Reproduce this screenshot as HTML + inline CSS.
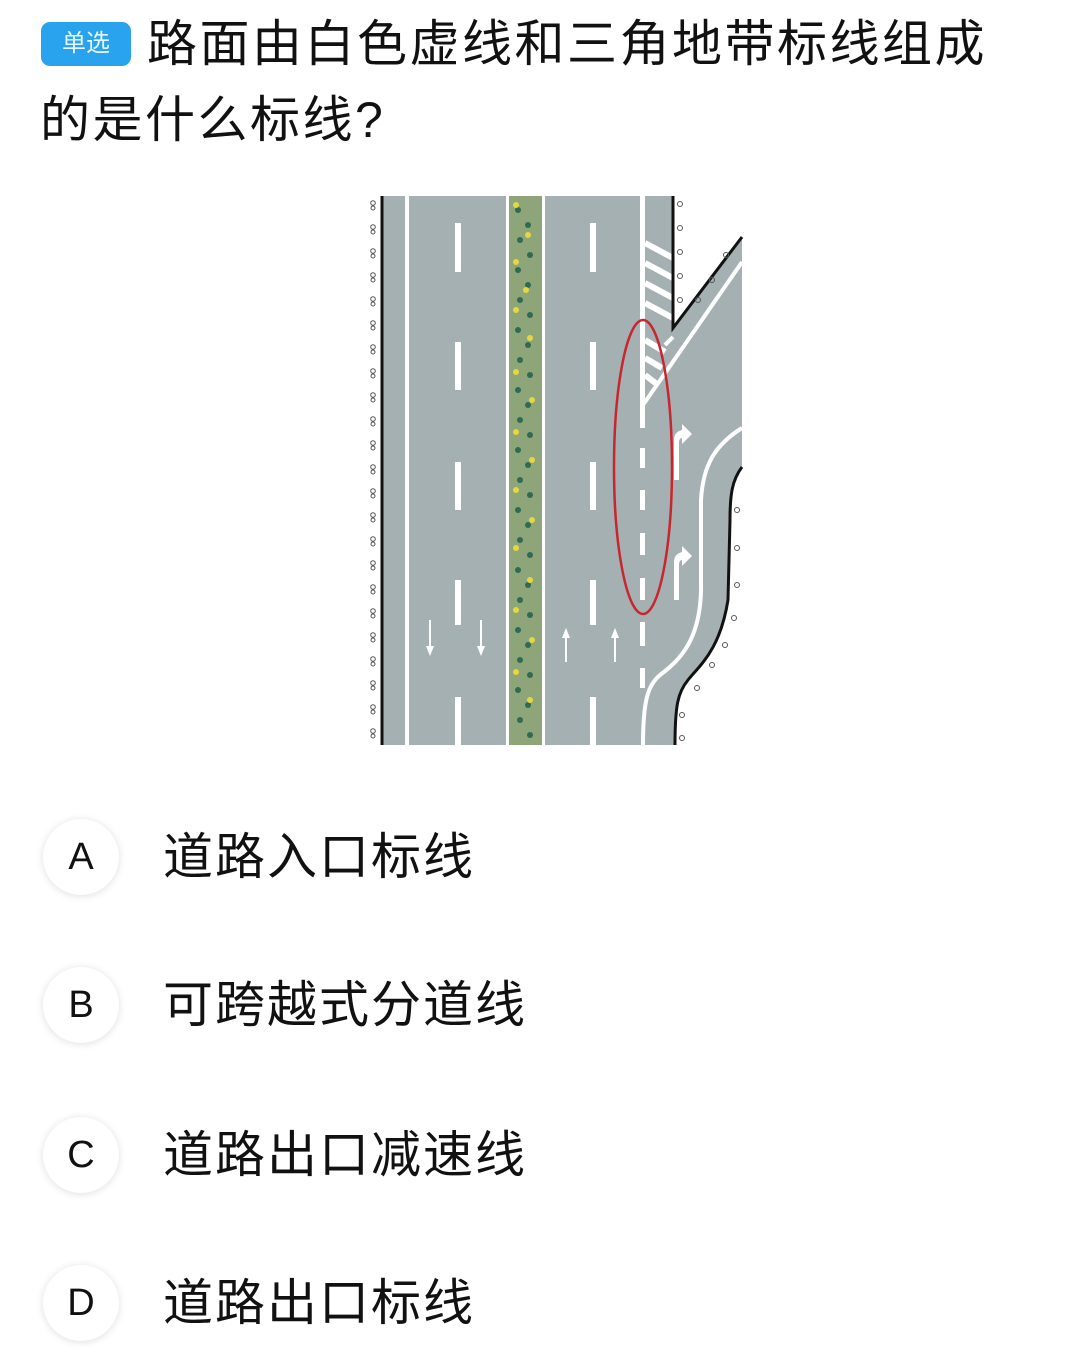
<!DOCTYPE html>
<html><head><meta charset="utf-8"><style>
body{margin:0;width:1080px;height:1361px;background:#fff;position:relative;overflow:hidden;font-family:"Liberation Sans","Noto Sans CJK SC",sans-serif;color:#111}
.badge{position:absolute;left:41px;top:22px;width:90px;height:44px;background:#2aa3ef;border-radius:9px;color:#e8f6ff;font-size:24px;line-height:44px;text-align:center}
.t{position:absolute;font-size:50px;letter-spacing:2.5px;line-height:60px;white-space:nowrap}
.c{position:absolute;left:43px;width:76px;height:76px;border-radius:50%;background:#fff;box-shadow:0 1px 8px rgba(0,0,0,0.13);font-size:38px;line-height:76px;text-align:center;color:#111}
.o{position:absolute;left:163px;font-size:50px;letter-spacing:2px;line-height:60px;white-space:nowrap}
</style></head><body>
<div class="badge">单选</div>
<div class="t" style="left:147px;top:14px">路面由白色虚线和三角地带标线组成</div>
<div class="t" style="left:40px;top:90px">的是什么标线?</div>

<svg style="position:absolute;left:0;top:0" width="1080" height="760">
<defs><pattern id="cu" x="366" y="198" width="14" height="24" patternUnits="userSpaceOnUse"><circle cx="7" cy="5" r="2.3" fill="none" stroke="#555" stroke-width="1"/><circle cx="7" cy="10" r="2" fill="none" stroke="#555" stroke-width="1"/></pattern></defs>
<path d="M382,196 L673,196 L673,328 L742,237 L742,467 C732,480 730,495 730,520 L728,600 C720,650 700,665 688,680 C678,692 675,705 675,745 L382,745 Z" fill="#a5b0b3"/>
<rect x="508" y="196" width="35" height="549" fill="#8ea57a"/>
<g fill="#2f6a52">
<circle cx="518" cy="210" r="3"/><circle cx="528" cy="225" r="3"/><circle cx="520" cy="240" r="3"/><circle cx="530" cy="255" r="3"/><circle cx="518" cy="270" r="3"/><circle cx="528" cy="285" r="3"/><circle cx="520" cy="300" r="3"/><circle cx="530" cy="315" r="3"/><circle cx="518" cy="330" r="3"/><circle cx="528" cy="345" r="3"/><circle cx="520" cy="360" r="3"/><circle cx="530" cy="375" r="3"/><circle cx="518" cy="390" r="3"/><circle cx="528" cy="405" r="3"/><circle cx="520" cy="420" r="3"/><circle cx="530" cy="435" r="3"/><circle cx="518" cy="450" r="3"/><circle cx="528" cy="465" r="3"/><circle cx="520" cy="480" r="3"/><circle cx="530" cy="495" r="3"/><circle cx="518" cy="510" r="3"/><circle cx="528" cy="525" r="3"/><circle cx="520" cy="540" r="3"/><circle cx="530" cy="555" r="3"/><circle cx="518" cy="570" r="3"/><circle cx="528" cy="585" r="3"/><circle cx="520" cy="600" r="3"/><circle cx="530" cy="615" r="3"/><circle cx="518" cy="630" r="3"/><circle cx="528" cy="645" r="3"/><circle cx="520" cy="660" r="3"/><circle cx="530" cy="675" r="3"/><circle cx="518" cy="690" r="3"/><circle cx="528" cy="705" r="3"/><circle cx="520" cy="720" r="3"/><circle cx="530" cy="735" r="3"/></g>
<g fill="#e8d640"><circle cx="516" cy="205" r="3"/><circle cx="528" cy="235" r="3"/><circle cx="516" cy="262" r="3"/><circle cx="526" cy="290" r="3"/><circle cx="516" cy="310" r="3"/><circle cx="530" cy="338" r="3"/><circle cx="516" cy="372" r="3"/><circle cx="532" cy="400" r="3"/><circle cx="516" cy="432" r="3"/><circle cx="532" cy="460" r="3"/><circle cx="516" cy="490" r="3"/><circle cx="532" cy="520" r="3"/><circle cx="516" cy="548" r="3"/><circle cx="530" cy="580" r="3"/><circle cx="516" cy="610" r="3"/><circle cx="532" cy="640" r="3"/><circle cx="516" cy="672" r="3"/><circle cx="530" cy="700" r="3"/></g>
<g fill="#fff">
<rect x="405" y="196" width="4" height="549"/><rect x="506" y="196" width="3" height="549"/><rect x="542" y="196" width="3" height="549"/>
<rect x="455" y="223" width="6" height="49"/><rect x="455" y="342" width="6" height="48"/><rect x="455" y="462" width="6" height="48"/><rect x="455" y="580" width="6" height="45"/><rect x="455" y="697" width="6" height="48"/>
<rect x="590" y="223" width="6" height="49"/><rect x="590" y="342" width="6" height="48"/><rect x="590" y="462" width="6" height="48"/><rect x="590" y="580" width="6" height="45"/><rect x="590" y="697" width="6" height="48"/>
<rect x="640" y="196" width="5" height="232"/><rect x="640" y="448" width="5" height="20"/><rect x="640" y="490" width="5" height="20"/><rect x="640" y="533" width="5" height="22"/><rect x="640" y="578" width="5" height="22"/><rect x="640" y="622" width="5" height="24"/><rect x="640" y="668" width="5" height="20"/>
</g>
<g stroke="#fff" stroke-width="6" fill="none">
<line x1="645" y1="243" x2="673" y2="258"/><line x1="645" y1="263" x2="673" y2="278"/><line x1="645" y1="283" x2="673" y2="298"/><line x1="645" y1="303" x2="673" y2="318"/>
<line x1="645" y1="340" x2="665" y2="352"/><line x1="645" y1="358" x2="662" y2="368"/><line x1="645" y1="375" x2="658" y2="385"/>
</g>
<line x1="742" y1="262" x2="643" y2="405" stroke="#fff" stroke-width="4"/>
<line x1="665" y1="345" x2="673" y2="337" stroke="#fff" stroke-width="4"/>
<path d="M742,428 C715,445 703,465 701,500 L701,590 C700,640 680,660 660,675 C648,685 643,700 643,745" stroke="#fff" stroke-width="4" fill="none"/>
<line x1="382" y1="196" x2="382" y2="745" stroke="#111" stroke-width="3"/>
<polyline points="673,196 673,328 742,237" stroke="#111" stroke-width="3" fill="none"/>
<path d="M742,467 C732,480 730,495 730,520 L728,600 C720,650 700,665 688,680 C678,692 675,705 675,745" stroke="#111" stroke-width="3" fill="none"/>
<rect x="366" y="198" width="14" height="547" fill="url(#cu)"/>
<g fill="none" stroke="#555" stroke-width="1">
<circle cx="680" cy="204" r="2.5"/><circle cx="680" cy="228" r="2.5"/><circle cx="680" cy="252" r="2.5"/><circle cx="680" cy="276" r="2.5"/><circle cx="680" cy="300" r="2.5"/>
<circle cx="698" cy="300" r="2.5"/><circle cx="712" cy="280" r="2.5"/><circle cx="726" cy="255" r="2.5"/>
<circle cx="737" cy="510" r="2.5"/><circle cx="737" cy="548" r="2.5"/><circle cx="737" cy="585" r="2.5"/><circle cx="734" cy="618" r="2.5"/><circle cx="725" cy="645" r="2.5"/><circle cx="712" cy="665" r="2.5"/><circle cx="697" cy="688" r="2.5"/><circle cx="682" cy="715" r="2.5"/><circle cx="682" cy="738" r="2.5"/>
</g>
<g fill="#fff">
<rect x="429" y="620" width="2" height="28"/><polygon points="426,646 434,646 430,656"/>
<rect x="480" y="620" width="2" height="28"/><polygon points="477,646 485,646 481,656"/>
<rect x="565" y="636" width="2" height="26"/><polygon points="562,638 570,638 566,628"/>
<rect x="614" y="636" width="2" height="26"/><polygon points="611,638 619,638 615,628"/>
<path d="M674,480 L674,440 Q674,432 682,430 L682,424 L692,434 L682,444 L682,438 Q679,438 679,443 L679,480Z"/>
<path d="M674,600 L674,562 Q674,554 682,552 L682,546 L692,556 L682,566 L682,560 Q679,560 679,565 L679,600Z"/>
</g>
<ellipse cx="643" cy="467" rx="29" ry="147" fill="none" stroke="#c8262e" stroke-width="2.5"/>
</svg>

<div class="c" style="top:819px">A</div><div class="o" style="top:827px">道路入口标线</div>
<div class="c" style="top:967px">B</div><div class="o" style="top:975px">可跨越式分道线</div>
<div class="c" style="top:1117px">C</div><div class="o" style="top:1125px">道路出口减速线</div>
<div class="c" style="top:1265px">D</div><div class="o" style="top:1273px">道路出口标线</div>
</body></html>
